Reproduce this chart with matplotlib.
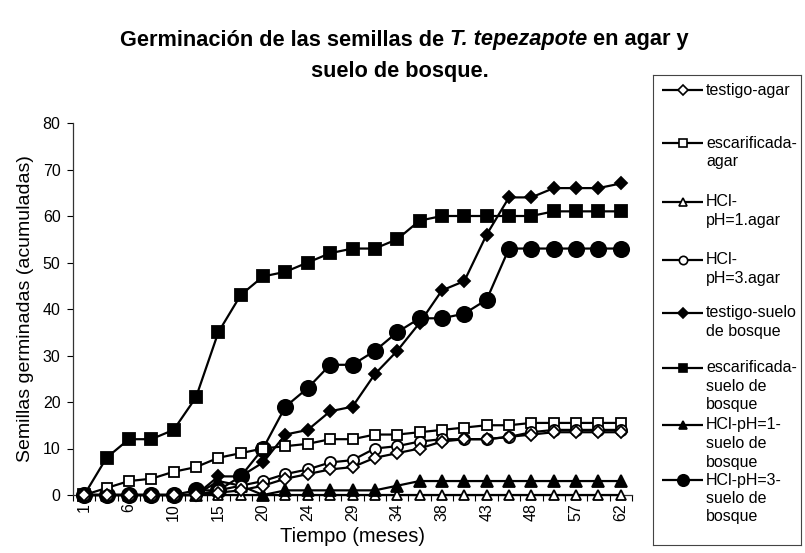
import matplotlib
matplotlib.use("Agg")
import matplotlib.pyplot as plt
import numpy as np

plt.rcParams['font.family'] = ['Liberation Sans', 'DejaVu Sans']

# ---------------- data ----------------
months = ["1", "3", "6", "8", "10", "13", "15", "17", "20", "22", "24", "27", "29",
          "31", "34", "36", "38", "41", "43", "45", "48", "52", "57", "60", "62"]
tick_label_every = 2

testigo_agar = [0, 0, 0, 0, 0, 0, 0.5, 1, 2, 3.5, 4.5, 5.5, 6, 8, 9, 10, 11.5, 12, 12, 12.5, 13, 13.5, 13.5, 13.5, 13.5]
escarificada_agar = [0, 1.5, 3, 3.5, 5, 6, 8, 9, 10, 10.5, 11, 12, 12, 13, 13, 13.5, 14, 14.5, 15, 15, 15.5, 15.5, 15.5, 15.5, 15.5]
hcl_ph1_agar = [0] * 25
hcl_ph3_agar = [0, 0, 0, 0, 0, 0, 1, 2, 3, 4.5, 5.5, 7, 7.5, 10, 10.5, 11.5, 12, 12, 12, 12.5, 13.5, 14, 14, 14, 14]
testigo_suelo = [0, 0, 0, 0, 0, 0, 4, 4, 7, 13, 14, 18, 19, 26, 31, 37, 44, 46, 56, 64, 64, 66, 66, 66, 67]
escarificada_suelo = [0, 8, 12, 12, 14, 21, 35, 43, 47, 48, 50, 52, 53, 53, 55, 59, 60, 60, 60, 60, 60, 61, 61, 61, 61]
hcl_ph1_suelo = [0, 0, 0, 0, 0, 0, 3, 2, 0, 1, 1, 1, 1, 1, 2, 3, 3, 3, 3, 3, 3, 3, 3, 3, 3]
hcl_ph3_suelo = [0, 0, 0, 0, 0, 1, 1, 4, 10, 19, 23, 28, 28, 31, 35, 38, 38, 39, 42, 53, 53, 53, 53, 53, 53]

series_labels = ["testigo-agar", "escarificada-\nagar", "HCl-\npH=1.agar", "HCl-\npH=3.agar",
                 "testigo-suelo\nde bosque", "escarificada-\nsuelo de\nbosque",
                 "HCl-pH=1-\nsuelo de\nbosque", "HCl-pH=3-\nsuelo de\nbosque"]

title_parts = ["Germinación de las semillas de ", "T. tepezapote", " en agar y"]
title_line2 = "suelo de bosque."
xlabel = "Tiempo (meses)"
ylabel = "Semillas germinadas (acumuladas)"
y_ticks = [0, 10, 20, 30, 40, 50, 60, 70, 80]

# ---------------- styles ----------------
all_series = [testigo_agar, escarificada_agar, hcl_ph1_agar, hcl_ph3_agar,
              testigo_suelo, escarificada_suelo, hcl_ph1_suelo, hcl_ph3_suelo]
styles = [
    dict(marker='D', ms=6.5, mfc='white'),
    dict(marker='s', ms=7.5, mfc='white'),
    dict(marker='^', ms=7.5, mfc='white'),
    dict(marker='o', ms=8, mfc='white'),
    dict(marker='D', ms=6.5, mfc='black'),
    dict(marker='s', ms=8.5, mfc='black'),
    dict(marker='^', ms=8, mfc='black'),
    dict(marker='o', ms=11, mfc='black'),
]
zorders = [6, 5, 4, 5, 3, 3, 4, 3]

W, H = 805, 553
fig = plt.figure(figsize=(W / 100, H / 100), dpi=100)
fig.patch.set_facecolor('white')

left, right, top, bottom = 73, 632, 123, 495
ax = fig.add_axes([left / W, 1 - bottom / H, (right - left) / W, (bottom - top) / H])

n = len(months)
x = np.arange(n) + 0.5
for vals, st, z in zip(all_series, styles, zorders):
    ax.plot(x, vals, color='black', lw=1.6, marker=st['marker'], ms=st['ms'],
            mfc=st['mfc'], mec='black', mew=1.3, zorder=z, clip_on=False)

ax.set_xlim(0, n)
ax.set_ylim(0, 80)
ax.set_yticks(y_ticks)
ax.set_yticklabels([str(v) for v in y_ticks], fontsize=11.5)
ax.tick_params(axis='y', direction='out', length=4, width=0.8, pad=5)

ax.set_xticks(np.arange(n + 1))
ax.set_xticklabels([])
ax.tick_params(axis='x', which='major', direction='out', length=4, width=0.8)
ax.set_xticks(x[::tick_label_every], minor=True)
ax.set_xticklabels(months[::tick_label_every], minor=True, rotation=90, fontsize=11.5)
ax.tick_params(axis='x', which='minor', length=0, pad=6)

for s in ['top', 'right']:
    ax.spines[s].set_visible(False)
for s in ['left', 'bottom']:
    ax.spines[s].set_linewidth(0.9)
    ax.spines[s].set_color('#333333')

ax.set_xlabel(xlabel, fontsize=14.5, labelpad=4)
ax.set_ylabel(ylabel, fontsize=14, labelpad=6)

# ---------------- title (mixed styles) ----------------
fig.canvas.draw()
renderer = fig.canvas.get_renderer()
tsize = 15.7
texts = []
for i, part in enumerate(title_parts):
    t = fig.text(0, 1 - 40 / H, part, fontsize=tsize, fontweight='bold',
                 style='italic' if i == 1 else 'normal', va='center', ha='left')
    texts.append(t)
widths = [t.get_window_extent(renderer).width for t in texts]
total = sum(widths)
xstart = 404 - total / 2
for t, w in zip(texts, widths):
    t.set_x(xstart / W)
    xstart += w
fig.text(400 / W, 1 - 72 / H, title_line2, fontsize=tsize, fontweight='bold',
         ha='center', va='center')

# ---------------- legend (manual) ----------------
lx0, lx1, ly0, ly1 = 653, 801, 75, 545
lax = fig.add_axes([lx0 / W, 1 - ly1 / H, (lx1 - lx0) / W, (ly1 - ly0) / H])
lax.set_xlim(lx0, lx1)
lax.set_ylim(ly1, ly0)
lax.set_xticks([])
lax.set_yticks([])
for s in lax.spines.values():
    s.set_linewidth(0.8)
    s.set_color('#444444')
entry_y = [90, 143, 202, 260, 313, 368, 425, 480]
line_h = 18.5
for lab, st, yy in zip(series_labels, styles, entry_y):
    lax.plot([662, 703], [yy, yy], color='black', lw=1.6, solid_capstyle='butt')
    lax.plot([682.5], [yy], marker=st['marker'], ms=st['ms'] * 0.75, mfc=st['mfc'],
             mec='black', mew=1.2, color='black')
    for k, ln in enumerate(lab.split("\n")):
        lax.text(706, yy + k * line_h, ln, fontsize=11.5, va='center', ha='left',
                 clip_on=False)

fig.savefig("out.png", dpi=100, facecolor='white')
